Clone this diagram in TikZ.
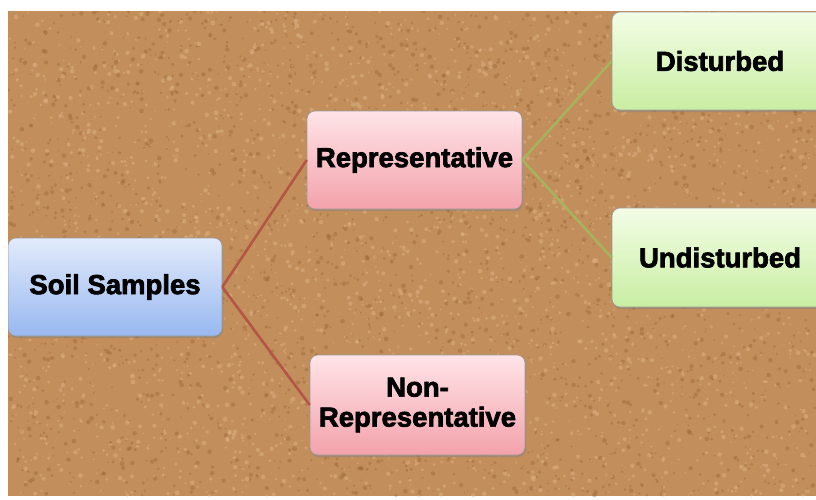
\documentclass[tikz,border=0pt]{standalone}
\usepackage{fontspec}
\setmainfont{Liberation Sans}[BoldFeatures={FakeBold=2.5}]
\usetikzlibrary{shadows}
\definecolor{cork}{HTML}{C28E5C}
\definecolor{corkdark}{HTML}{94602F}
\definecolor{corklight}{HTML}{E0B689}
\definecolor{redline}{HTML}{B45646}
\definecolor{greenline}{HTML}{A7B35C}
\definecolor{bluetop}{HTML}{E2EBFB}
\definecolor{bluebot}{HTML}{98B8F0}
\definecolor{pinktop}{HTML}{FFE4E8}
\definecolor{pinkbot}{HTML}{F3A2AA}
\definecolor{greentop}{HTML}{F3FDE6}
\definecolor{greenbot}{HTML}{C9EEA2}
\begin{document}
\begin{tikzpicture}[x=1pt,y=-1pt,
  box/.style={rounded corners=8pt, minimum height=98pt, align=center,
    font=\fontsize{27.5}{30}\selectfont\bfseries, text=black,
    draw=black!40, line width=0.6pt,
    drop shadow={shadow xshift=1pt, shadow yshift=-2pt, opacity=0.45}},
  bluebox/.style={box, top color=bluetop, bottom color=bluebot},
  pinkbox/.style={box, top color=pinktop, bottom color=pinkbot},
  greenbox/.style={box, top color=greentop, bottom color=greenbot},
  redlink/.style={draw=redline, line width=2.6pt},
  greenlink/.style={draw=greenline, line width=2.6pt}]
\useasboundingbox (0,0) rectangle (816,499);
\fill[white] (0,0) rectangle (816,499);
\begin{scope}
\clip (8,11) rectangle (816,496);
\fill[cork] (8,11) rectangle (816,496);
\pgfmathsetseed{4242}
\foreach \i in {1,...,2600} {
  \pgfmathsetmacro\xx{8+rnd*808}
  \pgfmathsetmacro\yy{11+rnd*485}
  \pgfmathsetmacro\rr{0.8+rnd*1.6}
  \fill[corkdark, opacity=0.35] (\xx,\yy) circle (\rr pt);
}
\foreach \i in {1,...,2600} {
  \pgfmathsetmacro\xx{8+rnd*808}
  \pgfmathsetmacro\yy{11+rnd*485}
  \pgfmathsetmacro\rr{0.8+rnd*1.6}
  \fill[corklight, opacity=0.45] (\xx,\yy) circle (\rr pt);
}
\node[bluebox, minimum width=214pt] (soil) at (115,287) {Soil Samples};
\node[pinkbox, minimum width=215pt] (rep) at (414.5,160) {Representative};
\node[pinkbox, minimum width=215pt, minimum height=100pt] (nonrep) at (417.5,405) {Non-\\Representative};
\node[greenbox, minimum width=216pt] (dist) at (720,61) {Disturbed};
\node[greenbox, minimum width=216pt, minimum height=99pt] (undist) at (720,257.5) {Undisturbed};
\draw[redlink] (soil.east) -- (rep.west);
\draw[redlink] (soil.east) -- (nonrep.west);
\draw[greenlink] (rep.east) -- (dist.west);
\draw[greenlink] (rep.east) -- (undist.west);
\end{scope}
\end{tikzpicture}
\end{document}
